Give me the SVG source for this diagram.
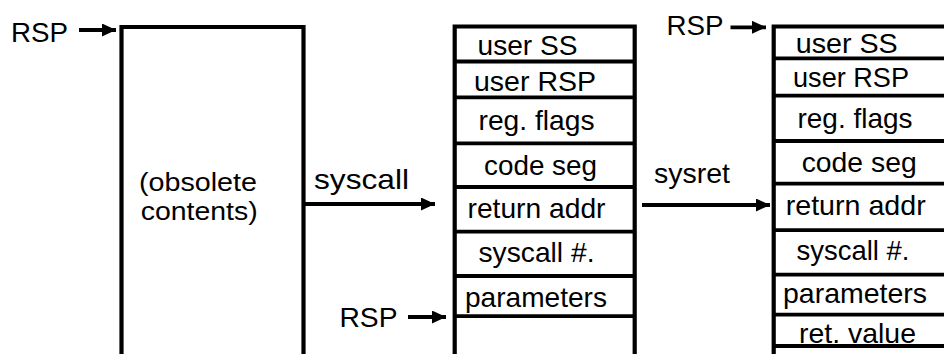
<svg xmlns="http://www.w3.org/2000/svg" width="944" height="354" viewBox="0 0 944 354">
<style>
.t{font-family:"Liberation Sans",Arial,sans-serif;font-size:28px;fill:#000}
.s{font-size:26px}
.box{fill:#fff;stroke:#000;stroke-width:4.2}
.div{stroke:#000;stroke-width:3.8}
.ar{stroke:#000;stroke-width:3.8;fill:none}
</style>
<defs>
<marker id="ah" markerUnits="userSpaceOnUse" markerWidth="15" markerHeight="14" refX="14" refY="6.5" orient="auto">
<path d="M0,0 L14,6.5 L0,13 Z" fill="#000"/>
</marker>
</defs>
<g id="left-stack">
<path class="box" d="M121.5,360 V27 H303.5 V360"/>
<text class="t s" x="139" y="190.5" textLength="118" lengthAdjust="spacingAndGlyphs">(obsolete</text>
<text class="t s" x="140.7" y="220" textLength="117" lengthAdjust="spacingAndGlyphs">contents)</text>
</g>
<g id="middle-stack">
<path class="box" d="M454.7,360 V26.5 H634.7 V360"/>
<line class="div" x1="454.7" y1="61.5" x2="634.7" y2="61.5"/>
<line class="div" x1="454.7" y1="97.3" x2="634.7" y2="97.3"/>
<line class="div" x1="454.7" y1="143.3" x2="634.7" y2="143.3"/>
<line class="div" x1="454.7" y1="187" x2="634.7" y2="187"/>
<line class="div" x1="454.7" y1="231.7" x2="634.7" y2="231.7"/>
<line class="div" x1="454.7" y1="276" x2="634.7" y2="276"/>
<line class="div" x1="454.7" y1="316.2" x2="634.7" y2="316.2"/>
<text class="t" x="477.5" y="55" textLength="100" lengthAdjust="spacingAndGlyphs">user SS</text>
<text class="t" x="474" y="90.7" textLength="122" lengthAdjust="spacingAndGlyphs">user RSP</text>
<text class="t" x="478.5" y="130" textLength="116" lengthAdjust="spacingAndGlyphs">reg. flags</text>
<text class="t" x="484" y="175" textLength="113" lengthAdjust="spacingAndGlyphs">code seg</text>
<text class="t" x="467.5" y="218.3" textLength="138" lengthAdjust="spacingAndGlyphs">return addr</text>
<text class="t" x="478.5" y="261.7" textLength="116" lengthAdjust="spacingAndGlyphs">syscall #.</text>
<text class="t" x="465" y="306.7" textLength="142" lengthAdjust="spacingAndGlyphs">parameters</text>
</g>
<g id="right-stack">
<path class="box" d="M773.7,360 V26.5 H960 V360"/>
<line class="div" x1="773.7" y1="58.3" x2="960" y2="58.3"/>
<line class="div" x1="773.7" y1="95.7" x2="960" y2="95.7"/>
<line class="div" x1="773.7" y1="141" x2="960" y2="141"/>
<line class="div" x1="773.7" y1="183.7" x2="960" y2="183.7"/>
<line class="div" x1="773.7" y1="230.2" x2="960" y2="230.2"/>
<line class="div" x1="773.7" y1="274.7" x2="960" y2="274.7"/>
<line class="div" x1="773.7" y1="314.7" x2="960" y2="314.7"/>
<line class="div" x1="773.7" y1="346" x2="960" y2="346"/>
<text class="t" x="795.7" y="53.3" textLength="102" lengthAdjust="spacingAndGlyphs">user SS</text>
<text class="t" x="793" y="87.3" textLength="116" lengthAdjust="spacingAndGlyphs">user RSP</text>
<text class="t" x="797.5" y="128.3" textLength="115" lengthAdjust="spacingAndGlyphs">reg. flags</text>
<text class="t" x="801.7" y="172" textLength="115" lengthAdjust="spacingAndGlyphs">code seg</text>
<text class="t" x="785.7" y="215" textLength="140" lengthAdjust="spacingAndGlyphs">return addr</text>
<text class="t" x="796.5" y="260" textLength="113" lengthAdjust="spacingAndGlyphs">syscall #.</text>
<text class="t" x="783" y="303.3" textLength="144" lengthAdjust="spacingAndGlyphs">parameters</text>
<text class="t" x="799" y="342.7" textLength="117" lengthAdjust="spacingAndGlyphs">ret. value</text>
</g>
<g id="connectors">
<line class="ar" x1="79" y1="30" x2="116" y2="30" marker-end="url(#ah)"/>
<line class="ar" x1="730.5" y1="27.3" x2="766" y2="27.3" marker-end="url(#ah)"/>
<line class="ar" x1="408" y1="317" x2="446" y2="317" marker-end="url(#ah)"/>
<line class="ar" x1="305" y1="204" x2="435" y2="204" marker-end="url(#ah)"/>
<line class="ar" x1="642" y1="205" x2="770" y2="205" marker-end="url(#ah)"/>
<text class="t" x="11" y="41.5" textLength="57" lengthAdjust="spacingAndGlyphs">RSP</text>
<text class="t" x="666.5" y="35" textLength="57" lengthAdjust="spacingAndGlyphs">RSP</text>
<text class="t" x="339.5" y="326.7" textLength="58" lengthAdjust="spacingAndGlyphs">RSP</text>
<text class="t" x="314" y="189" textLength="95" lengthAdjust="spacingAndGlyphs">syscall</text>
<text class="t" x="654" y="183.3" textLength="76" lengthAdjust="spacingAndGlyphs">sysret</text>
</g>
</svg>
